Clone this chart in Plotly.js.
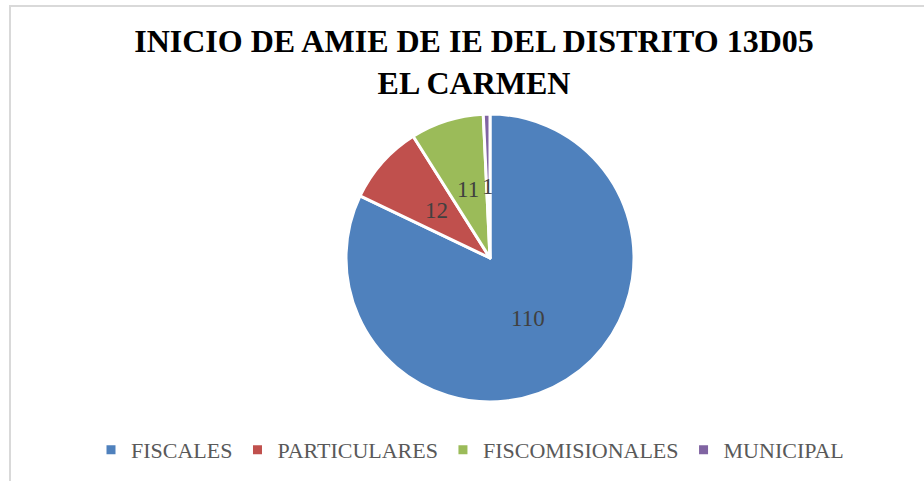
<!DOCTYPE html>
<html>
<head>
<meta charset="utf-8">
<script src="https://cdn.plot.ly/plotly-3.0.1.min.js"></script>
<style>
  html, body { margin: 0; padding: 0; background: #ffffff; }
  #wrap { position: relative; width: 924px; height: 481px; overflow: hidden; }
  #frame { position: absolute; left: 9px; top: 5px; width: 940px; height: 500px;
           border-left: 2px solid #d9d9d9; border-top: 2px solid #d9d9d9; pointer-events: none; }
  #chart { position: absolute; left: 0; top: 0; width: 924px; height: 481px; }
</style>
</head>
<body>
<div id="wrap">
  <div id="chart"></div>
  <div id="frame"></div>
</div>
<script>
const categories = ["FISCALES", "PARTICULARES", "FISCOMISIONALES", "MUNICIPAL"];
const values = [110, 12, 11, 1];
const colors = ["#4F81BD", "#C0504D", "#9BBB59", "#8064A2"];
const titleText = "INICIO DE AMIE DE IE DEL DISTRITO 13D05<br>EL CARMEN";

const W = 924, H = 481;
const cx = 490, cy = 258, R = 144;

// data labels placed at slice mid-angle, half radius (like the original)
const total = values.reduce((a, b) => a + b, 0);
let cum = 0;
const annotations = values.map((v, i) => {
  const mid = (cum + v / 2) / total * 2 * Math.PI;
  cum += v;
  const px = cx + 0.5 * R * Math.sin(mid);
  const py = cy - 0.5 * R * Math.cos(mid);
  return {
    text: String(v), x: px / W, y: 1 - py / H, xref: "paper", yref: "paper",
    showarrow: false, xanchor: "center", yanchor: "middle",
    font: {family: "Liberation Serif, serif", size: 23, color: "#404040"}
  };
});

const trace = {
  type: "pie",
  labels: categories,
  values: values,
  sort: false,
  direction: "clockwise",
  rotation: 0,
  textinfo: "none",
  hoverinfo: "label+value",
  marker: {colors: colors, line: {color: "#ffffff", width: 3}},
  domain: {x: [(cx - R) / W, (cx + R) / W], y: [1 - (cy + R) / H, 1 - (cy - R) / H]}
};

const layout = {
  width: W, height: H,
  margin: {l: 0, r: 0, t: 0, b: 0},
  paper_bgcolor: "#ffffff",
  title: {
    text: titleText,
    x: 474 / W, xanchor: "center",
    y: 1 - 52 / H, yanchor: "top", yref: "container",
    font: {family: "Liberation Serif, Times New Roman, serif", size: 32, color: "#000000", weight: "bold"}
  },
  showlegend: true,
  legend: {
    orientation: "h",
    x: 470 / W, xanchor: "center",
    y: 1 - 450 / H, yanchor: "middle",
    font: {family: "Liberation Serif, serif", size: 22, color: "#595959"},
    itemwidth: 30
  },
  annotations: annotations
};

Plotly.newPlot("chart", [trace], layout, {displayModeBar: false, staticPlot: true});
</script>
</body>
</html>
